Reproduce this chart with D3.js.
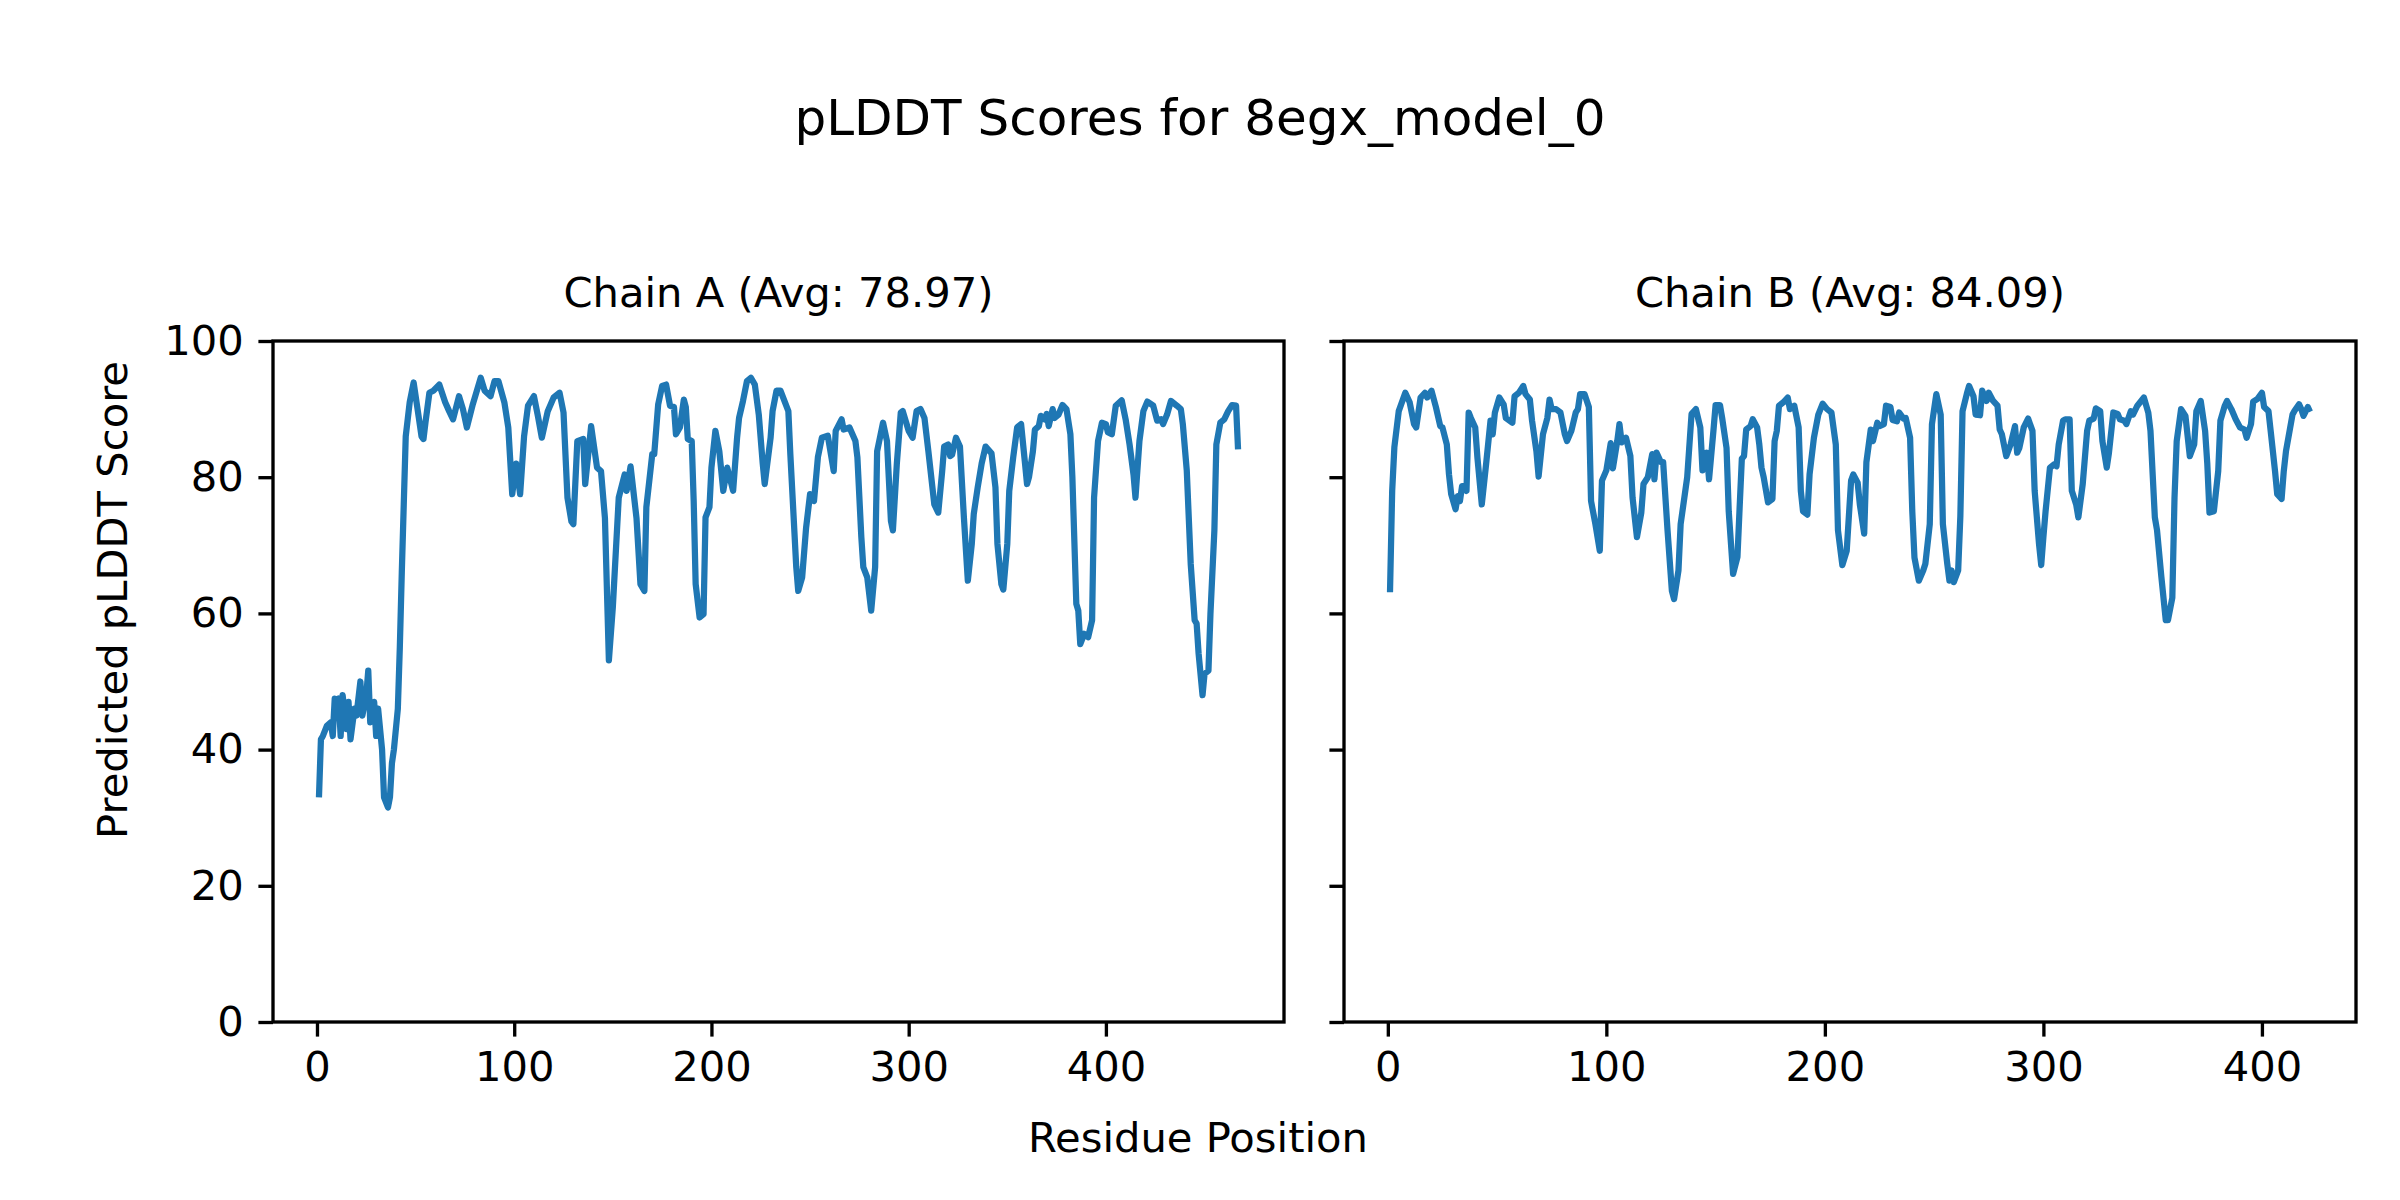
<!DOCTYPE html>
<html>
<head>
<meta charset="utf-8">
<script src="https://cdn.jsdelivr.net/npm/d3@7"></script>
<style>
  body { margin: 0; background: #fff; }
  svg text { font-family: "DejaVu Sans", sans-serif; fill: #000; }
</style>
</head>
<body>
<svg id="canvas" width="2400" height="1200"></svg>
<script>
// values (residue position, pLDDT)
let chainARes = [1,2,3,5,7,8,9,10,11,12,13,15,16,17,19,20,22,23,25,26,27,29,30,31,33,34,36,37,38,39,41,42,43,44,45,47,49,51,53,54,55,57,59,62,65,67,69,72,74,76,79,83,85,88,90,92,95,97,99,101,103,105,107,110,112,114,117,120,123,125,127,129,130,132,135,136,139,142,144,146,148,150,153,156,157,159,162,164,166,167,170,171,173,175,177,179,181,182,184,186,187,188,190,191,192,194,196,197,199,200,202,204,206,208,211,213,214,216,218,220,222,224,226,227,230,231,233,235,239,240,243,244,246,248,250,252,254,256,259,262,263,266,267,270,273,274,276,277,279,281,283,284,287,289,291,292,294,296,297,300,302,304,306,308,310,313,315,317,318,320,321,322,324,326,328,330,332,333,335,337,339,342,344,345,347,348,350,351,353,355,357,359,360,361,363,364,366,367,369,370,371,373,374,376,378,380,382,383,385,386,387,389,391,393,394,396,398,400,401,403,405,408,410,412,414,415,417,419,421,424,426,428,429,431,433,436,438,439,441,443,445,446,447,449,450,452,453,455,456,458,460,462,464,466,467];
let chainAScore = [33,41.5,42,43.5,44,42,47.5,46,47.5,42,48,43,47,41.5,46,45,50,45,48,51.6,44,47,42,46,40,33,31.5,33,38,40,46,55,66,76,86,91,93.9,90,86,85.6,88,92.4,92.7,93.6,91,89.7,88.5,91.9,90,87.3,90.7,94.6,92.7,91.9,94.1,94.1,91,87.3,77.5,82,77.5,86,90.5,91.9,89,85.8,89.7,91.7,92.4,89.5,77,73.5,73.1,85.3,85.6,79,87.5,81.4,80.9,74,53.1,60.9,77,80.4,78,81.6,74,64.3,63.3,75.6,83.4,83.4,90.7,93.4,93.6,90.5,90.3,86.3,87.3,91.4,90.3,85.6,85.3,76.5,64.3,59.4,59.9,74.1,75.6,81.4,86.8,83.8,78,81.4,78,85.8,88.7,91.2,94.1,94.6,93.6,89.2,82,79,85.8,89.7,92.7,92.7,89.7,83.4,66.8,63.3,65.3,72.6,77.5,76.5,83,85.8,86.1,80.9,86.8,88.5,87,87.3,85.3,82.9,71.2,66.8,65.3,60.4,66.8,83.8,88,85.3,73.6,72.2,82,89.5,89.7,86.8,85.8,89.7,90,88.7,83.8,76,74.8,80.9,84.5,84.8,83.1,83.3,85.8,84.5,74.1,64.8,70.2,74.6,78.5,82,84.5,83.5,78.5,70.2,64.3,63.5,70.2,78,82.9,87.3,87.8,82,79,80,83.8,87,87.5,89,88.5,89.3,87.5,90,88.7,89.2,90.6,90,86.3,80,61.4,60.4,55.5,57,56.5,59,77,85.3,88,87.8,86.6,86.3,90.5,91.3,88.5,84.8,80.4,77,85.3,89.7,91.1,90.5,88.3,88.5,87.8,89.2,91.2,90.5,90,87.8,81,67.3,59,58.5,54.1,48,51.1,51.6,59.9,72.2,84.8,88,88.5,89.7,90.6,90.5,84.1];

let chainBRes = [1,2,3,5,8,10,12,13,15,17,18,20,22,24,25,27,28,29,31,32,33,34,36,37,38,40,41,43,45,47,48,49,51,53,54,57,58,60,62,63,65,66,68,69,71,73,74,75,77,79,81,82,84,86,87,88,90,92,93,95,97,98,100,102,103,105,106,107,109,111,112,114,116,117,119,121,122,123,125,126,128,130,131,133,134,137,139,141,143,144,146,147,149,150,152,153,155,156,158,160,161,162,163,164,166,167,169,170,171,172,174,176,177,178,179,181,183,184,186,188,189,190,192,193,195,197,199,201,203,205,206,208,210,212,213,215,216,218,219,221,222,224,225,227,228,230,231,233,234,236,237,239,240,241,243,245,246,248,249,251,253,254,256,257,258,259,261,262,263,265,266,268,269,271,272,274,275,277,279,280,281,283,285,287,288,289,291,293,295,296,298,299,300,301,303,305,306,307,309,310,312,313,315,316,318,320,321,323,324,326,327,329,330,332,334,335,337,338,340,341,343,346,348,349,351,352,354,356,357,359,360,361,363,365,367,369,370,372,374,375,376,378,380,381,383,384,386,388,390,392,393,395,396,398,400,401,403,404,406,407,409,410,411,414,415,417,418,419,421,422];
let chainBScore = [63.1,78,84.4,89.7,92.4,91,87.8,87.3,91.7,92.4,91.7,92.7,90.3,87.5,87.3,84.8,80.4,77.5,75.3,77.2,76.5,78.7,78,89.5,88.7,87.3,82.9,76,82,88.3,86.3,89.5,91.7,90.7,88.7,88,91.9,92.4,93.4,92.2,91.4,88.3,83.8,80.1,86.3,88.7,91.4,90,90,89.5,86.3,85.3,86.8,89.5,90,92.2,92.2,90.3,76.5,73.1,69.2,79.5,81,85,81.3,85.3,87.8,85.1,85.8,83.1,77,71.2,74.8,79,80,83.4,79.7,83.6,82.2,82.2,72.2,63.3,62.1,66.3,73.1,80,89.3,90,87.3,81,83.6,79.7,86.8,90.6,90.6,88.7,84.3,75,65.8,68.3,75.6,82.7,83.1,87,87.5,88.5,87.3,84.8,81.4,80,76.3,76.8,85.3,86.8,90.5,91,91.7,90,90.5,87.3,78,75,74.5,80.4,85.8,89.2,90.8,90,89.5,84.8,72.2,67.1,69.2,79.5,80.4,79.2,76,71.7,82.2,87,85.3,88,87.5,87.8,90.5,90.3,88.4,88.2,89.5,88.6,88.7,85.8,75,68.2,64.8,66.3,67.3,73.1,87.8,92.2,89.2,73.1,67.3,64.8,66.3,64.6,66.3,74.3,89.7,92.3,93.4,91.9,89.2,89.1,92.7,91.2,92.4,91.2,90.5,87,86.3,83.1,84.8,87.5,83.6,84.3,87.3,88.6,86.8,78,70.2,67.1,71.2,75,81.4,81.9,81.6,84.8,88.3,88.5,88.5,78,76,74.1,79,86.8,88.3,88.6,90.1,89.7,85.3,81.4,83.6,89.5,89.3,88.5,88.3,87.8,89.7,89.2,90.5,91.7,89.5,86.8,74.1,72.2,65.3,59,59,62.3,77,85.3,90,89,83.1,84.8,89.7,91.2,86.8,82,74.8,75,80.9,88.3,90.5,91.2,90,88.5,87.3,87,85.8,87.8,91.1,91.5,92.4,90.3,89.7,86.8,80.9,77.5,76.8,80.9,83.8,89.2,89.8,90.7,90,89,90.3,89.6];

let chainTitles = ["Chain A (Avg: 78.97)", "Chain B (Avg: 84.09)"];
let xTicks = [0, 100, 200, 300, 400];
let yTicks = [0, 20, 40, 60, 80, 100];

let canvas = d3.select("#canvas");
let lineColor = "#1f77b4";
let fontPx = 41.67;

let panels = [
    {res: chainARes, score: chainAScore, title: chainTitles[0], left: 273, right: 1284, showY: true},
    {res: chainBRes, score: chainBScore, title: chainTitles[1], left: 1344, right: 2356, showY: false}
];
let plotTop = 341, plotBottom = 1022;

let yScale = d3.scaleLinear().domain([0, 100]).range([plotBottom, plotTop]);

panels.forEach(p => {
    let first = d3.min(p.res), last = d3.max(p.res);
    let pad = (last - first) * 0.05;
    let xScale = d3.scaleLinear().domain([first - pad, last + pad]).range([p.left, p.right]);

    let g = canvas.append("g");

    let pts = p.res.map((r, i) => [r, p.score[i]]);
    g.append("path")
     .datum(pts)
     .attr("fill", "none")
     .attr("stroke", lineColor)
     .attr("stroke-width", 6.25)
     .attr("stroke-linejoin", "round")
     .attr("d", d3.line().x(d => xScale(d[0])).y(d => yScale(d[1])));

    // x axis
    let xAxis = g.append("g")
                 .attr("transform", `translate(0,${plotBottom})`)
                 .call(d3.axisBottom(xScale).tickValues(xTicks).tickSize(14.6).tickPadding(14.6).tickFormat(d3.format("d")));
    // y axis
    let yAxis = g.append("g")
                 .attr("transform", `translate(${p.left},0)`)
                 .call(d3.axisLeft(yScale).tickValues(yTicks).tickSize(14.6).tickPadding(14.6)
                        .tickFormat(p.showY ? d3.format("d") : ""));

    [xAxis, yAxis].forEach(a => {
        a.select(".domain").remove();
        a.selectAll(".tick line").attr("stroke", "#000").attr("stroke-width", 3.33);
        a.selectAll(".tick text").attr("font-size", fontPx).attr("font-family", "DejaVu Sans").attr("fill", "#000");
    });

    // frame
    g.append("rect")
     .attr("x", p.left).attr("y", plotTop)
     .attr("width", p.right - p.left).attr("height", plotBottom - plotTop)
     .attr("fill", "none").attr("stroke", "#000").attr("stroke-width", 3.33);

    g.append("text")
     .attr("x", (p.left + p.right) / 2).attr("y", 307)
     .attr("text-anchor", "middle").attr("font-size", fontPx)
     .text(p.title);
});

canvas.append("text")
      .attr("x", 1200).attr("y", 135)
      .attr("text-anchor", "middle").attr("font-size", 50)
      .text("pLDDT Scores for 8egx_model_0");

canvas.append("text")
      .attr("x", 1198).attr("y", 1152)
      .attr("text-anchor", "middle").attr("font-size", fontPx)
      .text("Residue Position");

canvas.append("text")
      .attr("transform", "translate(127,600) rotate(-90)")
      .attr("text-anchor", "middle").attr("font-size", fontPx)
      .text("Predicted pLDDT Score");
</script>
</body>
</html>
